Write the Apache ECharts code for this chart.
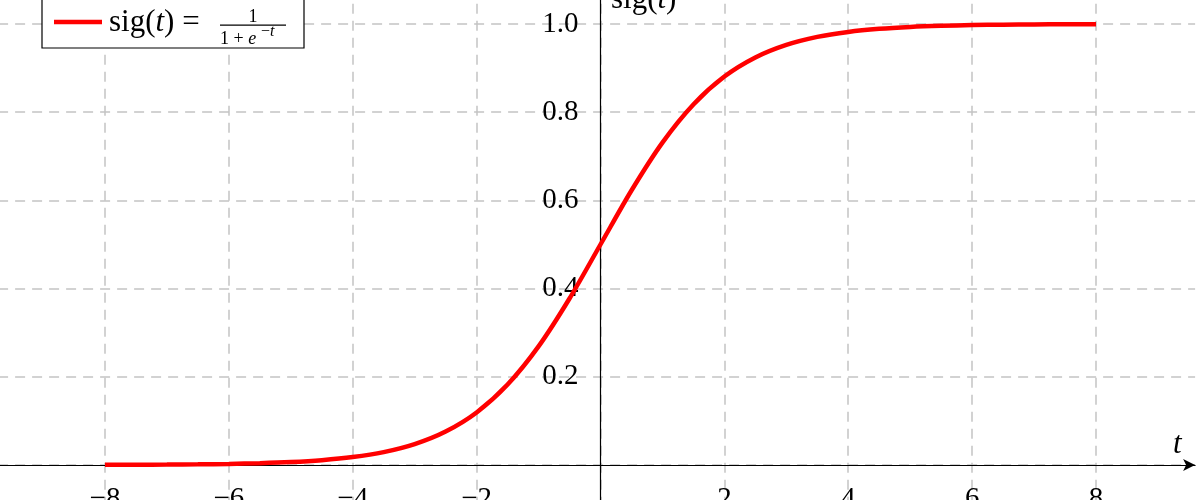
<!DOCTYPE html>
<html>
<head>
<meta charset="utf-8">
<script src="https://cdn.jsdelivr.net/npm/echarts@6/dist/echarts.min.js"></script>
<style>html,body{margin:0;padding:0;background:#fff}#c{width:1200px;height:500px}</style>
</head>
<body>
<div id="c"></div>
<script>
// Data (sigmoid curve samples)
const tValues = [-8,-7.5,-7,-6.5,-6,-5.5,-5,-4.5,-4,-3.5,-3,-2.5,-2,-1.5,-1,-0.5,0,0.5,1,1.5,2,2.5,3,3.5,4,4.5,5,5.5,6,6.5,7,7.5,8];
const sigValues = [0.0003,0.0006,0.0009,0.0015,0.0025,0.0041,0.0067,0.0110,0.0180,0.0293,0.0474,0.0759,0.1192,0.1824,0.2689,0.3775,0.5,0.6225,0.7311,0.8176,0.8808,0.9241,0.9526,0.9707,0.9820,0.9890,0.9933,0.9959,0.9975,0.9985,0.9991,0.9994,0.9997];
const xTickLabels = [-8,-6,-4,-2,2,4,6,8];
const yTickLabels = [0.2,0.4,0.6,0.8,1.0];
const seriesName = 'sig';

const FONT = 'Liberation Serif';
const BIG = 31;
const SMALL = 18;

const chart = echarts.init(document.getElementById('c'), null, {renderer: 'canvas'});
const gridDash = {color: '#c4c4c4', width: 1.5, type: [10, 7]};
const labelFont = {fontFamily: FONT, fontSize: 29, color: '#000'};

function rt(size) {
  return {
    fontWeight: 'normal',
    rich: {
      a: {fontFamily: FONT, fontSize: size, fontWeight: 'normal', color: '#000'},
      i: {fontFamily: FONT, fontSize: size, fontStyle: 'italic', fontWeight: 'normal', color: '#000'},
      bar: {width: 66, height: 1.2, lineHeight: 1.2, backgroundColor: '#000'}
    }
  };
}

chart.setOption({
  animation: false,
  backgroundColor: '#fff',
  grid: [
    {left: -18.9, right: 4.9, top: -64.2, bottom: -53.2, containLabel: false, outerBoundsMode: 'none'},
    {left: 105, right: 104, top: 24, bottom: 35, containLabel: false, outerBoundsMode: 'none'},
    {left: 600.5, right: 104, top: 24, bottom: 35, containLabel: false, outerBoundsMode: 'none'}
  ],
  title: [
    // axis names
    {text: '{a|sig(}{i|t}{a|)}', left: 611, top: -16, padding: 0, z: 10, textStyle: rt(BIG)},
    {text: '{i|t}', left: 1173, top: 429, padding: 0, z: 10, textStyle: rt(BIG)},
    // legend formula: sig(t) = 1 / (1 + e^{-t})
    {text: '{a|sig(}{i|t}{a|) =}', left: 109, top: 7, padding: 0, z: 10, textStyle: rt(BIG)},
    {text: '{a|1}', left: 248.5, top: 8, padding: 0, z: 10, textStyle: rt(SMALL)},
    {text: '{bar|}', left: 220, top: 24.5, padding: 0, z: 10, textStyle: rt(SMALL)},
    {text: '{a|1 + }{i|e}', left: 220, top: 30, padding: 0, z: 10, textStyle: rt(SMALL)},
    {text: '{a|\u2212}{i|t}', left: 261, top: 24, padding: 0, z: 10, textStyle: rt(16)}
  ],
  legend: {
    left: 42, top: -6,
    padding: [2, 15, 0, 12],
    borderColor: '#000', borderWidth: 1.2,
    backgroundColor: '#fff',
    itemWidth: 48, itemHeight: 4.5,
    z: 2,
    data: [{name: seriesName, icon: 'rect'}],
    formatter: () => '{sp| }',
    textStyle: {rich: {sp: {width: 182, height: 52, lineHeight: 52, fontSize: 12}}}
  },
  xAxis: [
    {
      gridIndex: 0, type: 'value', min: -10, max: 9.6, interval: 2,
      axisLine: {onZero: true, symbol: ['none', 'arrow'], symbolSize: [9, 12], lineStyle: {color: '#000', width: 1.2}},
      axisTick: {show: false},
      axisLabel: {show: false},
      splitLine: {show: true, showMinLine: false, showMaxLine: false, lineStyle: gridDash}
    },
    {
      gridIndex: 1, type: 'value', min: -8, max: 8, interval: 2, position: 'bottom',
      axisLine: {show: false, onZero: false}, axisTick: {show: false}, splitLine: {show: false},
      axisLabel: Object.assign({margin: 20, formatter: v => {
        const hit = xTickLabels.find(t => Math.abs(t - v) < 1e-6);
        return hit !== undefined ? (hit < 0 ? '\u2212' + (-hit) : String(hit)) : '';
      }}, labelFont)
    },
    {
      gridIndex: 2, type: 'value', min: 0, max: 8, show: false
    }
  ],
  yAxis: [
    {
      gridIndex: 0, type: 'value', min: -0.2, max: 1.2, interval: 0.2,
      axisLine: {onZero: true, lineStyle: {color: '#000', width: 1.2}},
      axisTick: {show: false},
      axisLabel: {show: false},
      splitLine: {show: true, lineStyle: gridDash}
    },
    {
      gridIndex: 1, type: 'value', min: 0, max: 1, show: false
    },
    {
      gridIndex: 2, type: 'value', min: 0, max: 1, interval: 0.2, position: 'left',
      axisLine: {show: false, onZero: false}, axisTick: {show: false}, splitLine: {show: false},
      axisLabel: Object.assign({margin: 22, formatter: v => {
        const hit = yTickLabels.find(t => Math.abs(t - v) < 1e-6);
        return hit !== undefined ? hit.toFixed(1) : '';
      }}, labelFont)
    }
  ],
  series: [{
    name: seriesName,
    type: 'line',
    xAxisIndex: 0, yAxisIndex: 0,
    data: tValues.map((t, i) => [t, sigValues[i]]),
    smooth: 0.3,
    symbol: 'none',
    lineStyle: {color: '#ff0000', width: 4.5},
    itemStyle: {color: '#ff0000'},
    z: 5
  }]
});
</script>
</body>
</html>
